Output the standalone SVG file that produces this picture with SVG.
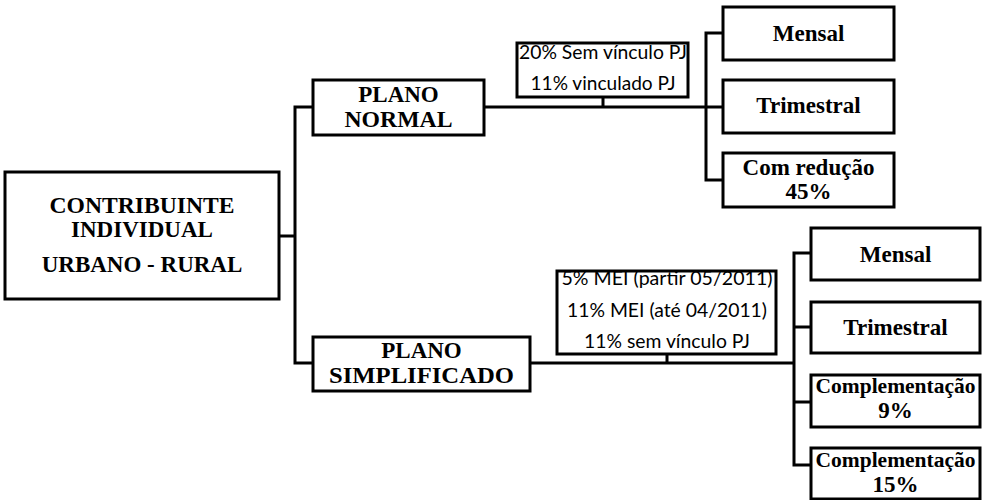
<svg xmlns="http://www.w3.org/2000/svg" width="982" height="500" viewBox="0 0 982 500">
<style>
.box{fill:#fff;stroke:#000;stroke-width:3}
.ln{fill:none;stroke:#000;stroke-width:3;stroke-linecap:square}
.t{font-family:'Liberation Serif','DejaVu Serif',serif;font-weight:700;font-size:23px;text-anchor:middle;fill:#000}
.s{font-family:'Liberation Serif','DejaVu Serif',serif;font-weight:700;font-size:20px;text-anchor:middle;fill:#000}
.c{font-family:Lato,'Liberation Sans',sans-serif;font-size:19px;text-anchor:middle;fill:#000}
</style>
<rect width="982" height="500" fill="#fff"/>
<g id="connectors">
<path class="ln" d="M279,236H295M295,107V363M295,107H313M295,363H313"/>
<path class="ln" d="M484,107H722M603,97V107M706,33V180M706,33H722M706,180H722"/>
<path class="ln" d="M530,363H794M667,354V363M794,253V465M794,253H811M794,327H811M794,402H811M794,465H811"/>
</g>
<g id="contribuinte">
<rect class="box" x="5" y="172" width="274" height="127"/>
<text class="t" x="142" y="213" textLength="185" lengthAdjust="spacingAndGlyphs">CONTRIBUINTE</text>
<text class="t" x="142" y="237">INDIVIDUAL</text>
<text class="t" x="142" y="272">URBANO - RURAL</text>
</g>
<g id="plano-normal">
<rect class="box" x="313" y="80" width="171" height="55"/>
<text class="t" x="398.5" y="102">PLANO</text>
<text class="t" x="398.5" y="127" textLength="108" lengthAdjust="spacingAndGlyphs">NORMAL</text>
</g>
<g id="aliquotas-normal">
<rect class="box" x="517" y="43" width="171" height="54"/>
<text class="c" x="603" y="59" textLength="168" lengthAdjust="spacingAndGlyphs">20% Sem vínculo PJ</text>
<text class="c" x="603" y="90" textLength="145" lengthAdjust="spacingAndGlyphs">11% vinculado PJ</text>
</g>
<g id="normal-mensal">
<rect class="box" x="723" y="7" width="171" height="53"/>
<text class="t" x="808.5" y="41">Mensal</text>
</g>
<g id="normal-trimestral">
<rect class="box" x="723" y="80" width="171" height="53"/>
<text class="t" x="808.5" y="113">Trimestral</text>
</g>
<g id="normal-reducao">
<rect class="box" x="723" y="153" width="171" height="54"/>
<text class="t" x="808.5" y="175">Com redução</text>
<text class="t" x="808.5" y="199">45%</text>
</g>
<g id="plano-simplificado">
<rect class="box" x="313" y="337" width="217" height="54"/>
<text class="t" x="421.5" y="358">PLANO</text>
<text class="t" x="421.5" y="383" textLength="185" lengthAdjust="spacingAndGlyphs">SIMPLIFICADO</text>
</g>
<g id="aliquotas-simplificado">
<rect class="box" x="557" y="271" width="219" height="83"/>
<text class="c" x="667" y="285" textLength="211" lengthAdjust="spacingAndGlyphs">5% MEI (partir 05/2011)</text>
<text class="c" x="667" y="317" textLength="200" lengthAdjust="spacingAndGlyphs">11% MEI (até 04/2011)</text>
<text class="c" x="667" y="348" textLength="166" lengthAdjust="spacingAndGlyphs">11% sem vínculo PJ</text>
</g>
<g id="simp-mensal">
<rect class="box" x="811" y="228" width="169" height="52"/>
<text class="t" x="895.5" y="262">Mensal</text>
</g>
<g id="simp-trimestral">
<rect class="box" x="811" y="302" width="169" height="51"/>
<text class="t" x="895.5" y="335">Trimestral</text>
</g>
<g id="simp-comp9">
<rect class="box" x="811" y="375" width="169" height="52"/>
<text class="s" x="895.5" y="393" textLength="160" lengthAdjust="spacingAndGlyphs">Complementação</text>
<text class="t" x="895.5" y="418">9%</text>
</g>
<g id="simp-comp15">
<rect class="box" x="811" y="448" width="169" height="51"/>
<text class="s" x="895.5" y="467" textLength="160" lengthAdjust="spacingAndGlyphs">Complementação</text>
<text class="t" x="895.5" y="492">15%</text>
</g>
</svg>
